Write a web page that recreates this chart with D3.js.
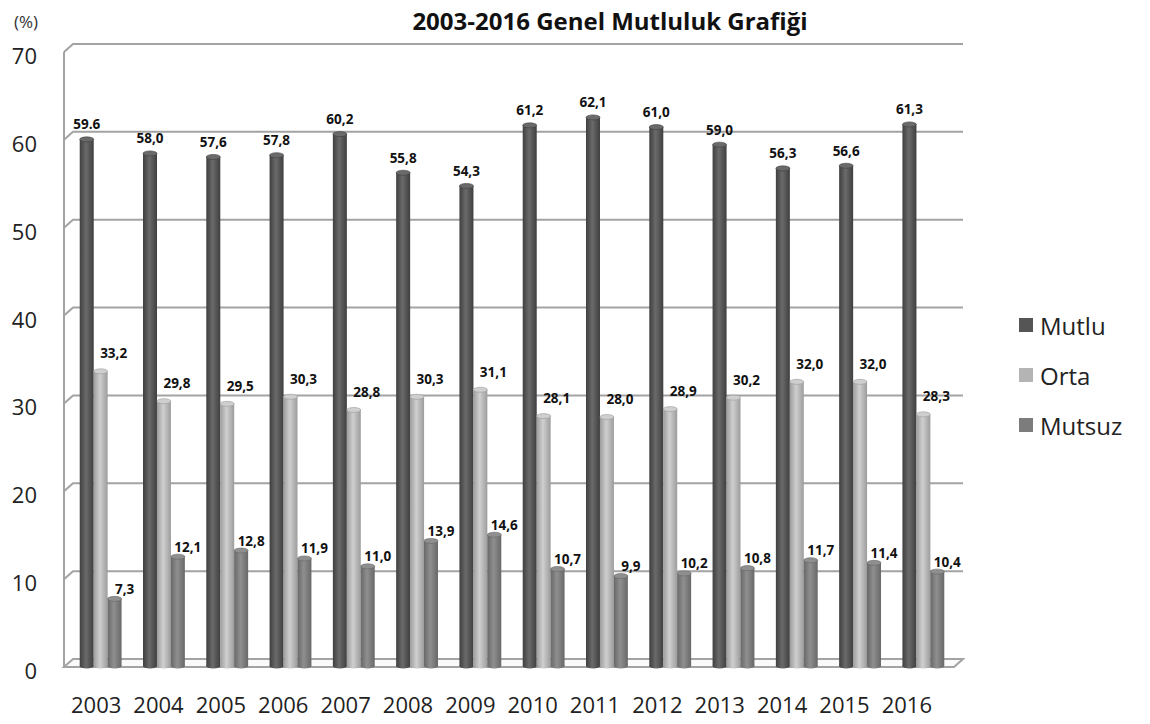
<!DOCTYPE html>
<html>
<head>
<meta charset="utf-8">
<script src="https://cdn.jsdelivr.net/npm/d3@7"></script>
<style>
  body { margin: 0; background: #fff; }
  svg { display: block; font-family: 'Open Sans', sans-serif; }
</style>
</head>
<body>
<div id="chart"></div>
<script>
const years  = ['2003','2004','2005','2006','2007','2008','2009','2010','2011','2012','2013','2014','2015','2016']
const series = ['Mutlu', 'Orta', 'Mutsuz']
const mutlu  = [59.6, 58.0, 57.6, 57.8, 60.2, 55.8, 54.3, 61.2, 62.1, 61.0, 59.0, 56.3, 56.6, 61.3]
const orta   = [33.2, 29.8, 29.5, 30.3, 28.8, 30.3, 31.1, 28.1, 28.0, 28.9, 30.2, 32.0, 32.0, 28.3]
const mutsuz = [7.3, 12.1, 12.8, 11.9, 11.0, 13.9, 14.6, 10.7, 9.9, 10.2, 10.8, 11.7, 11.4, 10.4]
const yTicks = [0, 10, 20, 30, 40, 50, 60, 70]
// the first label in the source uses a point, the rest a comma
const pointLabels = ['2003-Mutlu']

const W = 1150, H = 724
const DEPTH = { dx: 9, dy: 8 }   // back wall offset from front

const STYLE = {
  Mutlu:  { dark: '#3f3f3f', light: '#6a6a6a', legend: '#555555', ldx: 0,  ldy: -15 },
  Orta:   { dark: '#9c9c9c', light: '#cfcfcf', legend: '#b4b4b4', ldx: 13, ldy: -18 },
  Mutsuz: { dark: '#686868', light: '#8f8f8f', legend: '#7c7c7c', ldx: 10, ldy: -10 },
}

const rows = years.map((y, i) => ({ year: y, Mutlu: mutlu[i], Orta: orta[i], Mutsuz: mutsuz[i] }))

const svg = d3.select('#chart').append('svg').attr('width', W).attr('height', H)

// ── scales ─────────────────────────────────────────────────────
const yBack  = d3.scaleLinear().domain([0, 70]).range([659, 44])
const yMid   = d3.scaleLinear().domain([0, 70]).range([663, 48])
const x      = d3.scaleBand().domain(years).range([69, 955]).paddingInner(0.34).paddingOuter(0.17)
const xInner = d3.scaleBand().domain(series).range([0, x.bandwidth()])
const xFront = d3.scaleBand().domain(years).range([65, 938])

const backL = 73, backR = 963
const frontL = backL - DEPTH.dx, frontR = backR - DEPTH.dx

// ── gradients ──────────────────────────────────────────────────
const defs = svg.append('defs')
series.forEach(s => {
  const g = defs.append('linearGradient').attr('id', 'grad-' + s)
    .attr('x1', '0%').attr('x2', '100%').attr('y1', '0%').attr('y2', '0%')
  g.append('stop').attr('offset', '0%').attr('stop-color', STYLE[s].dark)
  g.append('stop').attr('offset', '45%').attr('stop-color', STYLE[s].light)
  g.append('stop').attr('offset', '100%').attr('stop-color', STYLE[s].dark)
})

// ── walls / gridlines ──────────────────────────────────────────
const gGrid = svg.append('g').attr('class', 'grid')
  .attr('stroke', '#a3a3a3').attr('stroke-width', 2).attr('fill', 'none')

// floor
gGrid.append('path')
  .attr('d', `M${backL},${yBack(0)} L${backR},${yBack(0)} L${frontR},${yBack(0) + DEPTH.dy} L${frontL},${yBack(0) + DEPTH.dy} Z`)
  .attr('fill', '#fafafa')

// left wall front edge
gGrid.append('line')
  .attr('x1', frontL).attr('x2', frontL)
  .attr('y1', yBack(70) + DEPTH.dy).attr('y2', yBack(0) + DEPTH.dy)

yTicks.filter(v => v > 0).forEach(v => {
  gGrid.append('polyline')
    .attr('points', `${frontL},${yBack(v) + DEPTH.dy} ${backL},${yBack(v)} ${backR},${yBack(v)}`)
})

// ── y axis labels ──────────────────────────────────────────────
svg.append('g').selectAll('text').data(yTicks).join('text')
  .attr('x', 37).attr('y', v => yBack(v) + DEPTH.dy + 3)
  .attr('text-anchor', 'end').attr('dominant-baseline', 'central')
  .attr('font-size', 22).attr('fill', '#222')
  .text(v => v)

svg.append('text').attr('x', 26).attr('y', 21)
  .attr('text-anchor', 'middle').attr('dominant-baseline', 'central')
  .attr('font-size', 17).attr('fill', '#333').text('(%)')

// ── x axis labels ──────────────────────────────────────────────
svg.append('g').selectAll('text').data(years).join('text')
  .attr('x', d => xFront(d) + xFront.bandwidth() / 2).attr('y', 704)
  .attr('text-anchor', 'middle').attr('dominant-baseline', 'central')
  .attr('font-size', 22).attr('fill', '#222')
  .text(d => d)

// ── bars (cylinders) ───────────────────────────────────────────
const bw = 14
const bars = []
rows.forEach(r => series.forEach(s => bars.push({ year: r.year, s, v: r[s] })))
const cx = d => x(d.year) + xInner(d.s) + xInner.bandwidth() / 2
const base = yMid(0) + 3

const gBars = svg.append('g').attr('class', 'bars')
const cyl = gBars.selectAll('g').data(bars).join('g')

cyl.append('rect')
  .attr('x', d => cx(d) - bw / 2).attr('width', bw)
  .attr('y', d => yMid(d.v)).attr('height', d => base - yMid(d.v))
  .attr('fill', d => `url(#grad-${d.s})`)
cyl.append('ellipse')
  .attr('cx', cx).attr('cy', base).attr('rx', bw / 2).attr('ry', 2.5)
  .attr('fill', d => `url(#grad-${d.s})`)
cyl.append('ellipse')
  .attr('cx', cx).attr('cy', d => yMid(d.v)).attr('rx', bw / 2).attr('ry', 2.5)
  .attr('fill', d => STYLE[d.s].light).attr('stroke', d => STYLE[d.s].dark).attr('stroke-width', 0.6)

// ── value labels ───────────────────────────────────────────────
const fmt = d => {
  const t = d.v.toFixed(1)
  return pointLabels.includes(`${d.year}-${d.s}`) ? t : t.replace('.', ',')
}
gBars.selectAll('text.val').data(bars).join('text').attr('class', 'val')
  .attr('x', d => cx(d) + STYLE[d.s].ldx)
  .attr('y', d => yMid(d.v) + STYLE[d.s].ldy)
  .attr('text-anchor', 'middle').attr('dominant-baseline', 'central')
  .attr('font-size', 13.5).attr('font-weight', 'bold').attr('fill', '#111')
  .text(fmt)

// ── title ──────────────────────────────────────────────────────
svg.append('text').attr('x', 610).attr('y', 20)
  .attr('text-anchor', 'middle').attr('dominant-baseline', 'central')
  .attr('font-size', 24).attr('font-weight', 'bold').attr('fill', '#111')
  .text('2003-2016 Genel Mutluluk Grafiği')

// ── legend ─────────────────────────────────────────────────────
const legend = svg.append('g').attr('transform', 'translate(1019,325)')
const li = legend.selectAll('g').data(series).join('g')
  .attr('transform', (d, i) => `translate(0,${i * 50})`)
li.append('rect').attr('x', 0).attr('y', -7).attr('width', 14).attr('height', 14)
  .attr('fill', d => STYLE[d].legend)
li.append('text').attr('x', 21).attr('y', 0)
  .attr('dominant-baseline', 'central').attr('font-size', 24).attr('fill', '#222')
  .text(d => d)
</script>
</body>
</html>
